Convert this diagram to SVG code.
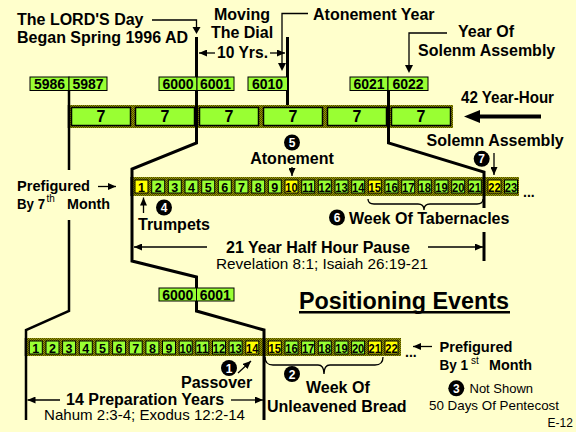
<svg xmlns="http://www.w3.org/2000/svg" width="576" height="432" viewBox="0 0 576 432">
<defs>
<pattern id="dith" width="2" height="2" patternUnits="userSpaceOnUse"><rect width="2" height="2" fill="#9a9a00"/><rect width="1" height="1" fill="#4a4a00"/><rect x="1" y="1" width="1" height="1" fill="#4a4a00"/></pattern>
<marker id="ah" viewBox="0 0 8 7" refX="8" refY="3.5" markerWidth="8" markerHeight="7" markerUnits="userSpaceOnUse" orient="auto"><path d="M0,0 L8,3.5 L0,7 z" fill="#000"/></marker>
<style>
.b{font:bold 16px "Liberation Sans",Arial,sans-serif;fill:#000}
.p{font:bold 15px "Liberation Sans",Arial,sans-serif;fill:#000}
.r{font:15px "Liberation Sans",Arial,sans-serif;fill:#000}
.sup{font:10px "Liberation Sans",Arial,sans-serif;fill:#000}
.lb{font:bold 14px "Liberation Sans",Arial,sans-serif;text-anchor:middle;fill:#000}
.cn{font:bold 12.5px "Liberation Sans",Arial,sans-serif;text-anchor:middle;fill:#000}
.sv{font:bold 16px "Liberation Sans",Arial,sans-serif;text-anchor:middle;fill:#000}
.ct{font:bold 12px "Liberation Sans",Arial,sans-serif;text-anchor:middle;fill:#fff}
.bx{fill:#99ff33;stroke:#000;stroke-width:1}
.yc{fill:#ffff00;stroke:#000;stroke-width:1}
.gc{fill:#99ff33;stroke:#000;stroke-width:1}
.blk{fill:#99ff33;stroke:#000;stroke-width:1.5}
.band{fill:url(#dith)}
.ln{fill:none;stroke:#000;stroke-width:1.3}
.th{fill:none;stroke:#000;stroke-width:3}
.md{fill:none;stroke:#000;stroke-width:2.5}
.ar{fill:none;stroke:#000;stroke-width:1.3;marker-end:url(#ah)}
</style>
</defs>
<rect width="576" height="432" fill="#ffffcc"/>

<g id="connectors">
<polyline class="th" points="196.5,37 196.5,143 132,169 132,261 196.5,277 196.5,311 264,330 264,420"/>
<polyline class="md" points="69,90 69,170"/>
<polyline class="md" points="69,220 69,311 26,330 26,420"/>
<polyline class="th" points="287.5,37 287.5,105"/>
<polyline class="th" points="388.5,90 388.5,143 484,172 484,208"/>
<polyline class="th" points="484,232 484,261"/>
<polyline class="ln" points="152,20 196.5,20 196.5,27"/>
<path d="M192.5,27 L196.5,34 L200.5,27 z"/>
<polyline class="ln" points="308,13.5 282,13.5 282,64"/>
<path d="M278,63 L282,71 L286,63 z"/>
<polyline class="ln" points="447,33 409,33 409,66"/>
<path d="M405,65 L409,73 L413,65 z"/>
<line class="ar" x1="215" y1="53" x2="199" y2="53"/>
<line class="ar" x1="270" y1="53" x2="285" y2="53"/>
<line x1="541" y1="116.5" x2="476" y2="116.5" stroke="#000" stroke-width="4"/>
<path d="M464,116.5 L480,110 L480,123 z"/>
<line class="ar" x1="98" y1="186.5" x2="116" y2="186.5"/>
<line class="ar" x1="292" y1="167" x2="292" y2="176"/>
<line class="ar" x1="494" y1="153" x2="494" y2="175"/>
<line class="ar" x1="143.5" y1="213" x2="143.5" y2="197.5"/>
<line class="ar" x1="207" y1="247" x2="134" y2="247"/>
<line class="ar" x1="428" y1="247" x2="483" y2="247"/>
<path class="ln" d="M368,199 q0,5 6,5 H418 q6,0 6,6 q0,-6 6,-6 H477 q6,0 6,-5"/>
<line class="ar" x1="432" y1="346.5" x2="413" y2="346.5"/>
<line class="ar" x1="238" y1="373" x2="251" y2="361"/>
<line class="ar" x1="60" y1="400" x2="27.5" y2="400"/>
<line class="ar" x1="231" y1="400" x2="263" y2="400"/>
<path class="ln" d="M265,357 q0,8 8,8 H318 q6,0 6,9 q0,-9 6,-9 H375 q8,0 8,-8"/>
</g>

<g id="year-labels">
<rect class="bx" x="30" y="77" width="39" height="13.5"/><text class="lb" x="49.5" y="88.5">5986</text>
<rect class="bx" x="69" y="77" width="38" height="13.5"/><text class="lb" x="88" y="88.5">5987</text>
<rect class="bx" x="159" y="77" width="38" height="13.5"/><text class="lb" x="178" y="88.5">6000</text>
<rect class="bx" x="197" y="77" width="37" height="13.5"/><text class="lb" x="215.5" y="88.5">6001</text>
<rect class="bx" x="248" y="77" width="39.5" height="13.5"/><text class="lb" x="267.5" y="88.5">6010</text>
<rect class="bx" x="350" y="77" width="38" height="13.5"/><text class="lb" x="369" y="88.5">6021</text>
<rect class="bx" x="388" y="77" width="40" height="13.5"/><text class="lb" x="408" y="88.5">6022</text>
<rect class="bx" x="159" y="288" width="37.5" height="13"/><text class="lb" x="177.8" y="299.5">6000</text>
<rect class="bx" x="196.5" y="288" width="37.5" height="13"/><text class="lb" x="215.3" y="299.5">6001</text>
</g>

<g id="sevens">
<rect class="band" x="69" y="105" width="384" height="23"/>
<rect class="blk" x="71.5" y="107.5" width="59" height="18"/><text class="sv" x="101" y="122">7</text>
<rect class="blk" x="135.5" y="107.5" width="59" height="18"/><text class="sv" x="165" y="122">7</text>
<rect class="blk" x="199.5" y="107.5" width="59" height="18"/><text class="sv" x="229" y="122">7</text>
<rect class="blk" x="263.5" y="107.5" width="59" height="18"/><text class="sv" x="293" y="122">7</text>
<rect class="blk" x="327.5" y="107.5" width="59" height="18"/><text class="sv" x="357" y="122">7</text>
<rect class="blk" x="391.5" y="107.5" width="59" height="18"/><text class="sv" x="421" y="122">7</text>
<line x1="69" y1="105" x2="69" y2="128" stroke="#000" stroke-width="2.5"/>
<line x1="196.5" y1="105" x2="196.5" y2="128" stroke="#000" stroke-width="3"/>
<line x1="388.5" y1="105" x2="388.5" y2="128" stroke="#000" stroke-width="3"/>
</g>

<g id="seventh-month">
<rect class="band" x="132" y="177" width="387" height="19"/>
<rect class="yc" x="135" y="180" width="13" height="13"/><text class="cn" x="141.5" y="191.5">1</text>
<rect class="gc" x="151.7" y="180" width="13" height="13"/><text class="cn" x="158.2" y="191.5">2</text>
<rect class="gc" x="168.3" y="180" width="13" height="13"/><text class="cn" x="174.8" y="191.5">3</text>
<rect class="gc" x="185" y="180" width="13" height="13"/><text class="cn" x="191.5" y="191.5">4</text>
<rect class="gc" x="201.7" y="180" width="13" height="13"/><text class="cn" x="208.2" y="191.5">5</text>
<rect class="gc" x="218.3" y="180" width="13" height="13"/><text class="cn" x="224.8" y="191.5">6</text>
<rect class="gc" x="235" y="180" width="13" height="13"/><text class="cn" x="241.5" y="191.5">7</text>
<rect class="gc" x="251.7" y="180" width="13" height="13"/><text class="cn" x="258.2" y="191.5">8</text>
<rect class="gc" x="268.3" y="180" width="13" height="13"/><text class="cn" x="274.8" y="191.5">9</text>
<rect class="yc" x="285" y="180" width="13" height="13"/><text class="cn" x="291.5" y="191.5" textLength="12.4" lengthAdjust="spacingAndGlyphs">10</text>
<rect class="gc" x="301.7" y="180" width="13" height="13"/><text class="cn" x="308.2" y="191.5" textLength="12.4" lengthAdjust="spacingAndGlyphs">11</text>
<rect class="gc" x="318.3" y="180" width="13" height="13"/><text class="cn" x="324.8" y="191.5" textLength="12.4" lengthAdjust="spacingAndGlyphs">12</text>
<rect class="gc" x="335" y="180" width="13" height="13"/><text class="cn" x="341.5" y="191.5" textLength="12.4" lengthAdjust="spacingAndGlyphs">13</text>
<rect class="gc" x="351.7" y="180" width="13" height="13"/><text class="cn" x="358.2" y="191.5" textLength="12.4" lengthAdjust="spacingAndGlyphs">14</text>
<rect class="yc" x="368.3" y="180" width="13" height="13"/><text class="cn" x="374.8" y="191.5" textLength="12.4" lengthAdjust="spacingAndGlyphs">15</text>
<rect class="gc" x="385" y="180" width="13" height="13"/><text class="cn" x="391.5" y="191.5" textLength="12.4" lengthAdjust="spacingAndGlyphs">16</text>
<rect class="gc" x="401.7" y="180" width="13" height="13"/><text class="cn" x="408.2" y="191.5" textLength="12.4" lengthAdjust="spacingAndGlyphs">17</text>
<rect class="gc" x="418.3" y="180" width="13" height="13"/><text class="cn" x="424.8" y="191.5" textLength="12.4" lengthAdjust="spacingAndGlyphs">18</text>
<rect class="gc" x="435" y="180" width="13" height="13"/><text class="cn" x="441.5" y="191.5" textLength="12.4" lengthAdjust="spacingAndGlyphs">19</text>
<rect class="gc" x="451.7" y="180" width="13" height="13"/><text class="cn" x="458.2" y="191.5" textLength="12.4" lengthAdjust="spacingAndGlyphs">20</text>
<rect class="gc" x="468.3" y="180" width="13" height="13"/><text class="cn" x="474.8" y="191.5" textLength="12.4" lengthAdjust="spacingAndGlyphs">21</text>
<rect class="yc" x="488" y="180" width="13" height="13"/><text class="cn" x="494.5" y="191.5" textLength="12.4" lengthAdjust="spacingAndGlyphs">22</text>
<rect class="gc" x="504.5" y="180" width="13" height="13"/><text class="cn" x="511" y="191.5" textLength="12.4" lengthAdjust="spacingAndGlyphs">23</text>
<line x1="132" y1="177" x2="132" y2="196" stroke="#000" stroke-width="3"/>
<line x1="484" y1="177" x2="484" y2="196" stroke="#000" stroke-width="3"/>
<text x="523" y="197" style="font:bold 14px 'Liberation Sans',Arial,sans-serif">...</text>
</g>

<g id="first-month">
<rect class="band" x="26" y="338" width="375" height="18"/>
<rect class="gc" x="29.3" y="341" width="13" height="13"/><text class="cn" x="35.8" y="352.5">1</text>
<rect class="gc" x="46" y="341" width="13" height="13"/><text class="cn" x="52.5" y="352.5">2</text>
<rect class="gc" x="62.6" y="341" width="13" height="13"/><text class="cn" x="69.1" y="352.5">3</text>
<rect class="gc" x="79.3" y="341" width="13" height="13"/><text class="cn" x="85.8" y="352.5">4</text>
<rect class="gc" x="95.9" y="341" width="13" height="13"/><text class="cn" x="102.4" y="352.5">5</text>
<rect class="gc" x="112.6" y="341" width="13" height="13"/><text class="cn" x="119.1" y="352.5">6</text>
<rect class="gc" x="129.2" y="341" width="13" height="13"/><text class="cn" x="135.7" y="352.5">7</text>
<rect class="gc" x="145.9" y="341" width="13" height="13"/><text class="cn" x="152.4" y="352.5">8</text>
<rect class="gc" x="162.5" y="341" width="13" height="13"/><text class="cn" x="169" y="352.5">9</text>
<rect class="gc" x="179.2" y="341" width="13" height="13"/><text class="cn" x="185.7" y="352.5" textLength="12.4" lengthAdjust="spacingAndGlyphs">10</text>
<rect class="gc" x="195.8" y="341" width="13" height="13"/><text class="cn" x="202.3" y="352.5" textLength="12.4" lengthAdjust="spacingAndGlyphs">11</text>
<rect class="gc" x="212.5" y="341" width="13" height="13"/><text class="cn" x="219" y="352.5" textLength="12.4" lengthAdjust="spacingAndGlyphs">12</text>
<rect class="gc" x="229.1" y="341" width="13" height="13"/><text class="cn" x="235.6" y="352.5" textLength="12.4" lengthAdjust="spacingAndGlyphs">13</text>
<rect class="yc" x="245.8" y="341" width="13" height="13"/><text class="cn" x="252.3" y="352.5" textLength="12.4" lengthAdjust="spacingAndGlyphs">14</text>
<rect class="yc" x="268.3" y="341" width="13" height="13"/><text class="cn" x="274.8" y="352.5" textLength="12.4" lengthAdjust="spacingAndGlyphs">15</text>
<rect class="gc" x="285" y="341" width="13" height="13"/><text class="cn" x="291.5" y="352.5" textLength="12.4" lengthAdjust="spacingAndGlyphs">16</text>
<rect class="gc" x="301.6" y="341" width="13" height="13"/><text class="cn" x="308.1" y="352.5" textLength="12.4" lengthAdjust="spacingAndGlyphs">17</text>
<rect class="gc" x="318.3" y="341" width="13" height="13"/><text class="cn" x="324.8" y="352.5" textLength="12.4" lengthAdjust="spacingAndGlyphs">18</text>
<rect class="gc" x="335" y="341" width="13" height="13"/><text class="cn" x="341.5" y="352.5" textLength="12.4" lengthAdjust="spacingAndGlyphs">19</text>
<rect class="gc" x="351.6" y="341" width="13" height="13"/><text class="cn" x="358.1" y="352.5" textLength="12.4" lengthAdjust="spacingAndGlyphs">20</text>
<rect class="yc" x="368.3" y="341" width="13" height="13"/><text class="cn" x="374.8" y="352.5" textLength="12.4" lengthAdjust="spacingAndGlyphs">21</text>
<rect class="yc" x="385" y="341" width="13" height="13"/><text class="cn" x="391.5" y="352.5" textLength="12.4" lengthAdjust="spacingAndGlyphs">22</text>
<line x1="26" y1="338" x2="26" y2="356" stroke="#000" stroke-width="2.5"/>
<line x1="264" y1="338" x2="264" y2="356" stroke="#000" stroke-width="3"/>
<text x="405" y="357" style="font:bold 14px 'Liberation Sans',Arial,sans-serif">...</text>
</g>

<g id="markers">
<circle cx="229" cy="368" r="8"/><text class="ct" x="229" y="372.5">1</text>
<circle cx="292" cy="374" r="8"/><text class="ct" x="292" y="378.5">2</text>
<circle cx="456.3" cy="388.3" r="8"/><text class="ct" x="456.3" y="392.8">3</text>
<circle cx="164" cy="207.5" r="8"/><text class="ct" x="164" y="212">4</text>
<circle cx="292" cy="142.5" r="8"/><text class="ct" x="292" y="147">5</text>
<circle cx="337" cy="217.5" r="8"/><text class="ct" x="337" y="222">6</text>
<circle cx="481.7" cy="158.8" r="8"/><text class="ct" x="481.7" y="163.3">7</text>
</g>

<g id="texts">
<text class="b" x="17" y="25">The LORD'S Day</text>
<text class="b" x="17" y="43">Began Spring 1996 AD</text>
<text class="b" x="242" y="20" text-anchor="middle">Moving</text>
<text class="b" x="242" y="38" text-anchor="middle">The Dial</text>
<text class="b" x="242.5" y="58" text-anchor="middle" textLength="51" lengthAdjust="spacingAndGlyphs">10 Yrs.</text>
<text class="b" x="313" y="20">Atonement Year</text>
<text class="b" x="458" y="37">Year Of</text>
<text class="b" x="418" y="56">Solenm Assembly</text>
<text class="b" x="461" y="103" textLength="93" lengthAdjust="spacingAndGlyphs">42 Year-Hour</text>
<text class="b" x="292" y="163.5" text-anchor="middle">Atonement</text>
<text class="b" x="426.5" y="146">Solemn Assembly</text>
<text class="p" x="17" y="191" textLength="73" lengthAdjust="spacingAndGlyphs">Prefigured</text>
<text class="p" x="17" y="209" textLength="28" lengthAdjust="spacingAndGlyphs">By 7</text>
<text class="sup" x="46.5" y="202">th</text>
<text class="p" x="67" y="209" textLength="43" lengthAdjust="spacingAndGlyphs">Month</text>
<text class="b" x="138" y="229.5">Trumpets</text>
<text class="b" x="349" y="223.5">Week Of Tabernacles</text>
<text class="b" x="226" y="252.5">21 Year Half Hour Pause</text>
<text class="r" x="216" y="268.5" textLength="212" lengthAdjust="spacingAndGlyphs">Revelation 8:1; Isaiah 26:19-21</text>
<text x="299" y="308.5" style="font:bold 23px 'Liberation Sans',Arial,sans-serif" textLength="210" lengthAdjust="spacingAndGlyphs">Positioning Events</text>
<rect x="299" y="311" width="211" height="2.5" fill="#000"/>
<text class="p" x="439.5" y="352" textLength="73" lengthAdjust="spacingAndGlyphs">Prefigured</text>
<text class="p" x="439.5" y="370" textLength="28.5" lengthAdjust="spacingAndGlyphs">By 1</text>
<text class="sup" x="471" y="364">st</text>
<text class="p" x="489" y="370" textLength="43" lengthAdjust="spacingAndGlyphs">Month</text>
<text class="b" x="181" y="387.5">Passover</text>
<text class="b" x="306" y="392.5">Week Of</text>
<text class="b" x="267" y="411.5">Unleavened Bread</text>
<text class="b" x="66" y="405">14 Preparation Years</text>
<text class="r" x="44" y="420" textLength="201" lengthAdjust="spacingAndGlyphs">Nahum 2:3-4; Exodus 12:2-14</text>
<text x="469.5" y="392.5" style="font:13px 'Liberation Sans',Arial,sans-serif">Not Shown</text>
<text x="429" y="409.5" style="font:13.5px 'Liberation Sans',Arial,sans-serif" textLength="130" lengthAdjust="spacingAndGlyphs">50 Days Of Pentecost</text>
<text x="547.5" y="427" style="font:12px 'Liberation Sans',Arial,sans-serif">E-12</text>
</g>
</svg>
